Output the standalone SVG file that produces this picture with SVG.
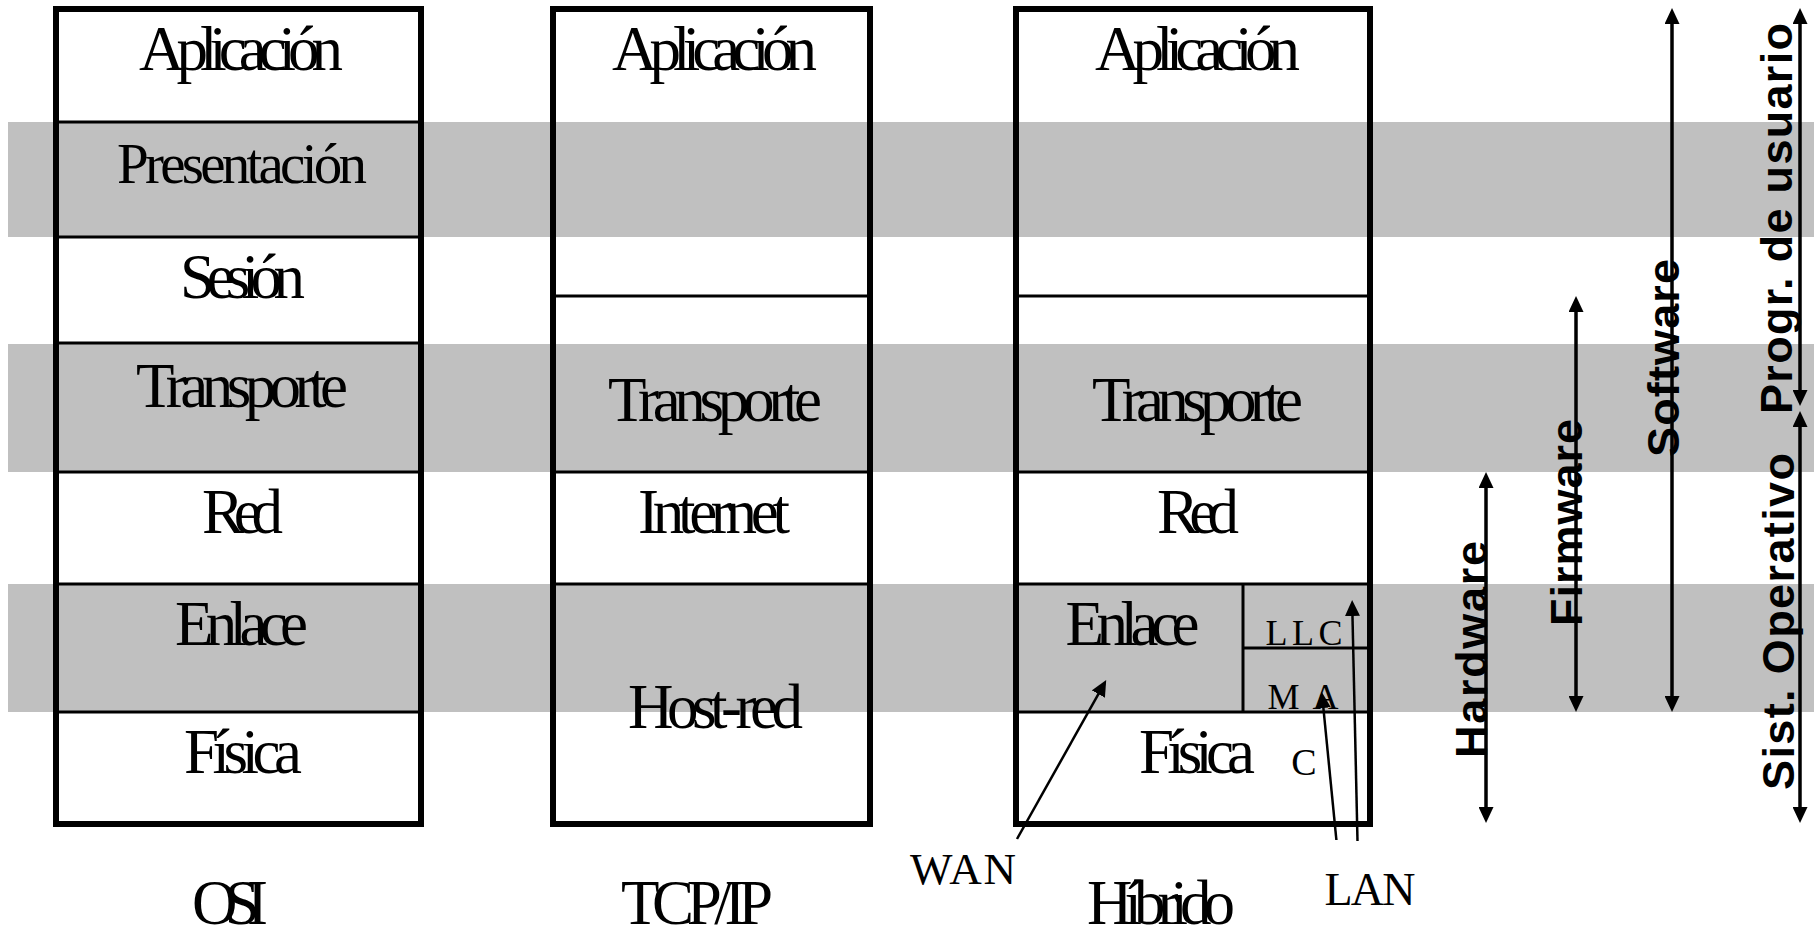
<svg xmlns="http://www.w3.org/2000/svg" width="1814" height="938" viewBox="0 0 1814 938">
<style>
.band{fill:#c0c0c0}
.frame{fill:none;stroke:#000;stroke-width:6}
.div{stroke:#000;stroke-width:3}
.lbl{font-family:"Liberation Serif","Times New Roman",serif;font-size:63px;text-anchor:middle;fill:#000}
.sm{font-family:"Liberation Serif","Times New Roman",serif;font-size:36px;text-anchor:middle;fill:#000}
.rot{font-family:"Liberation Sans",Arial,sans-serif;font-weight:bold;font-size:45px;text-anchor:middle;fill:#000}
.arr{stroke:#000;stroke-width:2.5;fill:none;marker-end:url(#ah)}
.rng{stroke:#000;stroke-width:3.5;fill:none;marker-start:url(#ah);marker-end:url(#ah)}
</style>
<defs>
<marker id="ah" viewBox="0 0 16 15" refX="8" refY="7.5" markerWidth="16" markerHeight="15" markerUnits="userSpaceOnUse" orient="auto-start-reverse">
<path d="M0,0 L16,7.5 L0,15 z" fill="#000"/>
</marker>
</defs>
<rect width="1814" height="938" fill="#fff"/>
<g id="bands">
<rect class="band" x="8" y="122" width="1806" height="115"/>
<rect class="band" x="8" y="344" width="1806" height="128"/>
<rect class="band" x="8" y="584" width="1806" height="128"/>
</g>
<g id="osi">
<rect class="frame" x="56" y="9" width="365" height="815"/>
<line class="div" x1="56" y1="122" x2="421" y2="122"/>
<line class="div" x1="56" y1="237" x2="421" y2="237"/>
<line class="div" x1="56" y1="343" x2="421" y2="343"/>
<line class="div" x1="56" y1="472" x2="421" y2="472"/>
<line class="div" x1="56" y1="584" x2="421" y2="584"/>
<line class="div" x1="56" y1="712" x2="421" y2="712"/>
<g id="osi-aplicacion"><text class="lbl" x="241" y="70" textLength="204" lengthAdjust="spacing">Aplicación</text></g>
<g id="osi-presentacion"><text class="lbl" x="242" y="183" style="font-size:57px" textLength="250" lengthAdjust="spacing">Presentación</text></g>
<g id="osi-sesion"><text class="lbl" x="242.5" y="298" textLength="125" lengthAdjust="spacing">Sesión</text></g>
<g id="osi-transporte"><text class="lbl" x="242" y="407" textLength="212" lengthAdjust="spacing">Transporte</text></g>
<g id="osi-red"><text class="lbl" x="242.5" y="533" textLength="81" lengthAdjust="spacing">Red</text></g>
<g id="osi-enlace"><text class="lbl" x="241.5" y="645" textLength="133" lengthAdjust="spacing">Enlace</text></g>
<g id="osi-fisica"><text class="lbl" x="243" y="773" textLength="118" lengthAdjust="spacing">Física</text></g>
<g id="osi-title"><text class="lbl" x="230" y="924" textLength="76" lengthAdjust="spacing">OSI</text></g>
</g>
<g id="tcpip">
<rect class="frame" x="553" y="9" width="317" height="815"/>
<line class="div" x1="553" y1="296" x2="870" y2="296"/>
<line class="div" x1="553" y1="472" x2="870" y2="472"/>
<line class="div" x1="553" y1="584" x2="870" y2="584"/>
<g id="tcp-aplicacion"><text class="lbl" x="714.5" y="70" textLength="205" lengthAdjust="spacing">Aplicación</text></g>
<g id="tcp-transporte"><text class="lbl" x="715" y="421" textLength="214" lengthAdjust="spacing">Transporte</text></g>
<g id="tcp-internet"><text class="lbl" x="714" y="533" textLength="152" lengthAdjust="spacing">Internet</text></g>
<g id="tcp-hostred"><text class="lbl" x="715.5" y="728" textLength="175" lengthAdjust="spacing">Host-red</text></g>
<g id="tcp-title"><text class="lbl" x="697" y="924" textLength="152" lengthAdjust="spacing">TCP/IP</text></g>
</g>
<g id="hibrido">
<rect class="frame" x="1016" y="9" width="354" height="815"/>
<line class="div" x1="1016" y1="296" x2="1370" y2="296"/>
<line class="div" x1="1016" y1="472" x2="1370" y2="472"/>
<line class="div" x1="1016" y1="584" x2="1370" y2="584"/>
<line class="div" x1="1016" y1="712" x2="1370" y2="712"/>
<line class="div" x1="1243" y1="584" x2="1243" y2="712"/>
<line class="div" x1="1243" y1="648" x2="1370" y2="648"/>
<g id="hib-aplicacion"><text class="lbl" x="1197.5" y="70" textLength="205" lengthAdjust="spacing">Aplicación</text></g>
<g id="hib-transporte"><text class="lbl" x="1197.5" y="421" textLength="211" lengthAdjust="spacing">Transporte</text></g>
<g id="hib-red"><text class="lbl" x="1198" y="533" textLength="82" lengthAdjust="spacing">Red</text></g>
<g id="hib-enlace"><text class="lbl" x="1132.5" y="645" textLength="134" lengthAdjust="spacing">Enlace</text></g>
<g id="hib-llc"><text class="sm" x="1304" y="645" textLength="77" lengthAdjust="spacing">LLC</text></g>
<g id="hib-mac"><text class="sm" x="1303" y="709" textLength="71" lengthAdjust="spacing">MA</text><text class="sm" x="1304" y="775" style="font-size:38px">C</text></g>
<g id="hib-fisica"><text class="lbl" x="1197" y="773" textLength="116" lengthAdjust="spacing">Física</text></g>
<g id="hib-title"><text class="lbl" x="1161" y="924" textLength="148" lengthAdjust="spacing">Híbrido</text></g>
</g>
<g id="wan-label"><text class="sm" x="963" y="884" style="font-size:45px" textLength="106" lengthAdjust="spacing">WAN</text></g>
<g id="lan-label"><text class="sm" x="1370" y="905" style="font-size:46px" textLength="91" lengthAdjust="spacing">LAN</text></g>
<g id="ranges">
<g id="hardware"><text class="rot" transform="translate(1487,649.5) rotate(-90)" textLength="217" lengthAdjust="spacing">Hardware</text></g>
<g id="firmware"><text class="rot" transform="translate(1582,522.5) rotate(-90)" textLength="207" lengthAdjust="spacing">Firmware</text></g>
<g id="software"><text class="rot" transform="translate(1679,358) rotate(-90)" textLength="198" lengthAdjust="spacing">Software</text></g>
<g id="progr"><text class="rot" transform="translate(1792,218.5) rotate(-90)" textLength="391" lengthAdjust="spacing">Progr. de usuario</text></g>
<g id="sistop"><text class="rot" transform="translate(1794,621.5) rotate(-90)" textLength="337" lengthAdjust="spacing">Sist. Operativo</text></g>
</g>
<g id="connectors">
<line class="arr" x1="1017" y1="839" x2="1102.3" y2="687.1"/>
<line class="arr" x1="1336.4" y1="840" x2="1322.6" y2="700"/>
<line class="arr" x1="1357.5" y1="841" x2="1352.3" y2="608"/>
<line class="rng" x1="1486" y1="480" x2="1486" y2="815"/>
<line class="rng" x1="1576" y1="304" x2="1576" y2="704"/>
<line class="rng" x1="1672" y1="16" x2="1672" y2="704"/>
<line class="rng" x1="1800" y1="16" x2="1800" y2="398"/>
<line class="rng" x1="1800" y1="419" x2="1800" y2="815"/>
</g>
</svg>
